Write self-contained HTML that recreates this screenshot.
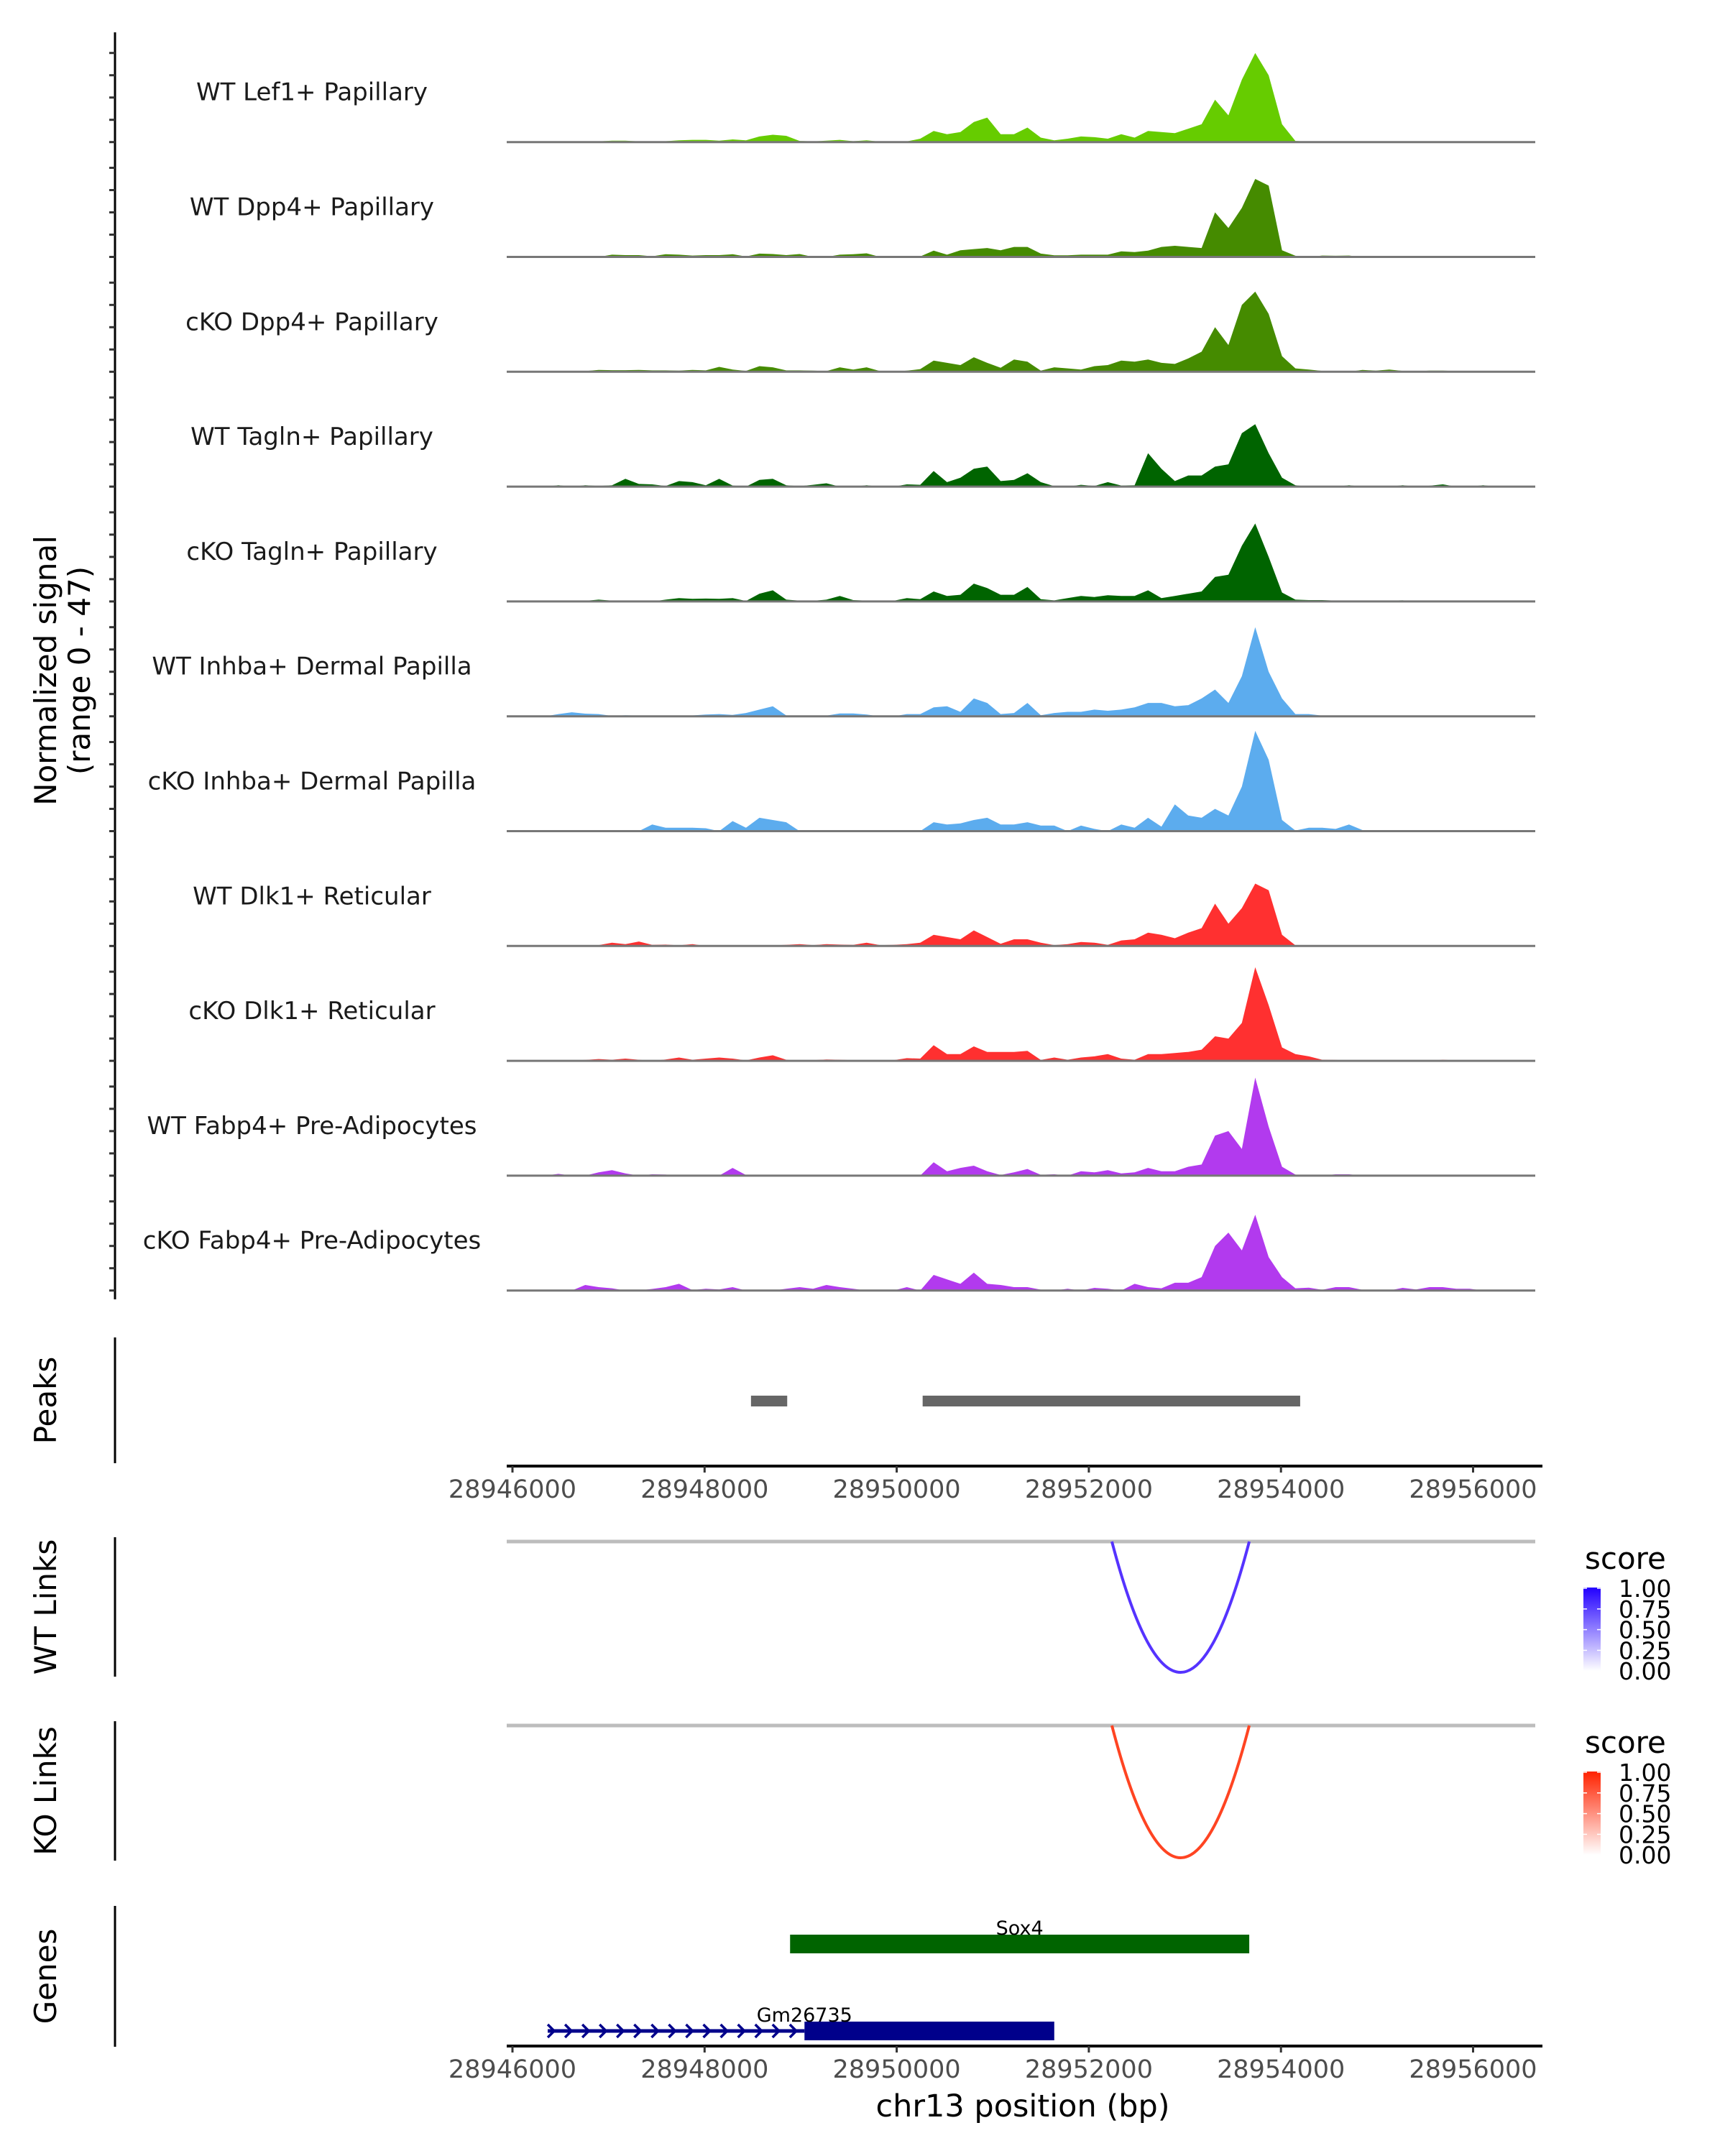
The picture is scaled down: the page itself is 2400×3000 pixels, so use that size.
<!DOCTYPE html>
<html><head><meta charset="utf-8">
<style>
html,body{margin:0;padding:0;background:#fff;}
svg{display:block;font-family:"DejaVu Sans","Liberation Sans",sans-serif;}
</style></head>
<body>
<svg id="chart" xmlns="http://www.w3.org/2000/svg" width="2400" height="3000" viewBox="0 0 2400 3000">
<defs>
<linearGradient id="gBlue" x1="0" y1="1" x2="0" y2="0"><stop offset="0" stop-color="#ffffff"/><stop offset="1" stop-color="#2200ff"/></linearGradient>
<linearGradient id="gRed" x1="0" y1="1" x2="0" y2="0"><stop offset="0" stop-color="#ffffff"/><stop offset="1" stop-color="#ff2200"/></linearGradient>
</defs>
<g id="tracks"></g>
<g id="peaks"></g>
<g id="links"></g>
<g id="genes"></g>
</svg>
<script>
// ---------- data ----------
const trackNames = ["WT Lef1+ Papillary","WT Dpp4+ Papillary","cKO Dpp4+ Papillary","WT Tagln+ Papillary","cKO Tagln+ Papillary","WT Inhba+ Dermal Papilla","cKO Inhba+ Dermal Papilla","WT Dlk1+ Reticular","cKO Dlk1+ Reticular","WT Fabp4+ Pre-Adipocytes","cKO Fabp4+ Pre-Adipocytes"];
const trackColors = ["#66cc00","#458b00","#458b00","#006400","#006400","#5cacee","#5cacee","#ff3030","#ff3030","#b23aee","#b23aee"];
const binStartBp = 28945990;
const binSizeBp = 139.5;
const sigLef1WT = [0,0.2,0.3,0.3,0.3,0.3,0.3,0.6,0.6,0.3,0.3,0.4,0.8,1,1,0.6,1.2,0.8,2.5,3.3,2.8,0.5,0.3,0.6,1,0.4,0.8,0.2,0,0.3,1.5,5,3.5,4.5,9,11,3.5,3.5,6.5,2,0.8,1.5,2.5,2.2,1.5,3.5,2,5,4.5,4,6,8,19,12,28,40,30,8,0.5,0.2,0.2,0.2,0.2,0.2,0.2,0.2,0.2,0.2,0.2,0.4,0.2,0.2,0,0,0];
const sigDpp4WT = [0,0,0,0,0,0,0,1,0.8,0.8,0.3,1.2,1,0.6,0.8,0.8,1.2,0.2,1.5,1.3,0.8,1.3,0,0,1,1.2,1.6,0,0,0.3,0.2,2.8,1,3,3.5,4,3,4.5,4.5,1.5,0.7,0.7,1,1,1,2.5,2.2,2.8,4.5,5,4.5,4,20,13,22,35,32,3,0.5,0,0.6,0.5,0.6,0,0,0,0,0,0.4,0.3,0.3,0.3,0,0,0];
const sigDpp4KO = [0,0,0,0.3,0.3,0.3,0.8,0.7,0.7,0.8,0.6,0.6,0.5,0.8,0.6,2.2,1,0.4,2.5,2,0.6,0.6,0.5,0.3,2,1,2,0.3,0,0.5,1.2,5,4,3,6.5,4,1.8,5.5,4.5,0.5,2,1.5,1,2.5,3,5,4.5,5.5,4,3.5,6,9,20,12,30,36,26,7,1.5,1,0.4,0,0,0.8,0.5,1,0.4,0.2,0.5,0.5,0.3,0,0,0,0];
const sigTaglnWT = [0,0,0,0.6,0,0.6,0.3,0.6,3.5,1.2,1,0.3,2.5,2,0.6,3.5,0.5,0,3,3.5,0.6,0.2,0.8,1.5,0,0,0.6,0,0,1,0.8,7,2,4,8,9,2.5,3,6,2,0.2,0,0.8,0.3,2,0.5,0.6,15,8,2.5,5,5,9,10,24,28,15,4,0.6,0,0,0,0.6,0,0,0,0.6,0,0.4,1,0,0,0.6,0,0];
const sigTaglnKO = [0,0,0,0,0.2,0.3,0.8,0.4,0,0,0,0.8,1.5,1.2,1.3,1.2,1.5,0.2,3.5,5,0.8,0.4,0.3,0.8,2.5,0.6,0.4,0.4,0.3,1.5,1,4.5,2.5,3,8,6,3,3,6.5,1,0.5,1.5,2.5,2,2.8,2.5,2.5,5,1.5,2.5,3.5,4.5,11,12,25,35,20,4,0.8,0.6,0.6,0.4,0,0,0.3,0.4,0.5,0,0,0.3,0.4,0.3,0,0,0];
const sigInhbaWT = [0,0,0,1,1.8,1.2,1,0.2,0.5,0.3,0.4,0,0,0.4,0.8,1,0.6,1.5,3,4.5,0.4,0.2,0.4,0.3,1.3,1.3,0.8,0,0,1,1,4,4.5,2,8,6,1,1.5,6,0.5,1.5,2,2,3,2.5,3,4,6,6,4.5,5,8,12,6,18,40,20,8,1,1,0.3,0.2,0.2,0,0,0.2,0.3,0,0,0.3,0.3,0,0,0,0];
const sigInhbaKO = [0,0,0,0,0,0,0,0,0,0,3,1.5,1.5,1.5,1.3,0,4.5,1.5,6,5,4,0,0,0,0,0,0,0,0,0,0,4,3,3.5,5,6,3,3,4,2.5,2.5,0,2.5,1,0,3,1.5,6,2,12,7,6,10,7,20,45,32,5,0.3,1.5,1.5,1,3,0.5,0,0,0,0,0,0,0,0,0,0,0];
const sigDlk1WT = [0,0,0,0.3,0.4,0.2,0.4,1.5,0.8,2,0.5,0.6,0.3,0.8,0,0,0.2,0,0.4,0.3,0.5,0.8,0.4,0.8,0.6,0.5,1.5,0.4,0.5,0.8,1.5,5,4,3,7,4,1,3,3,1.5,0.4,0.8,1.8,1.5,0.5,2.5,3,6,5,3.5,6,8,19,10,17,28,25,5,0.3,0.2,0,0,0.2,0.2,0.2,0.2,0,0,0,0,0,0,0,0,0];
const sigDlk1KO = [0,0,0,0.3,0.2,0.4,0.8,0.5,1,0.5,0,0.6,1.5,0.5,1,1.5,1,0.2,1.5,2.5,0.5,0,0.3,0.6,0.5,0.3,0.3,0,0.3,1.2,1,7,3,3,6.5,4,4,4,4.5,0.4,1.5,0.5,1.5,2,3,1,0.5,3,3,3.5,4,5,11,10,17,42,25,6,3,2,0.5,0.4,0.2,0.3,0,0,0,0,0,0.5,0.2,0.2,0,0,0];
const sigFabp4WT = [0,0,0,0.8,0,0,1.5,2.5,1,0,0.6,0.5,0,0,0,0,3.5,0.3,0,0,0,0,0,0,0,0,0,0,0,0,0,6,2,3.5,4.5,2,0.3,1.5,3,0.4,0.6,0,2,1.5,2.5,1,1.5,3.5,2,2,4,5,18,20,12,44,22,4,0.5,0,0,0.6,0.6,0,0,0,0,0,0,0,0,0,0,0,0];
const sigFabp4KO = [0,0,0,0,0,2.5,1.5,1,0,0,0.7,1.5,3,0.2,0.8,0.5,1.5,0,0,0,0.8,1.5,0.8,2.5,1.5,0.8,0,0,0,1.5,0,7,5,3,8,3,2.5,1.5,1.5,0.4,0,0.8,0,1.2,0.8,0,3,1.5,1,3.5,3.5,6,20,26,18,34,15,6,1,1.3,0.3,1.5,1.5,0.3,0,0,1.2,0.5,1.5,1.5,0.8,0.8,0,0,0];
const trackSignals = [sigLef1WT,sigDpp4WT,sigDpp4KO,sigTaglnWT,sigTaglnKO,sigInhbaWT,sigInhbaKO,sigDlk1WT,sigDlk1KO,sigFabp4WT,sigFabp4KO];
const yTickValues = [0,10,20,30,40];
const xTickValues = [28946000,28948000,28950000,28952000,28954000,28956000];
const peakStarts = [28948483,28950270];
const peakEnds = [28948860,28954200];
const linkWTStart = [28952240];
const linkWTEnd = [28953670];
const linkKOStart = [28952240];
const linkKOEnd = [28953670];
const legendTicks = ["1.00","0.75","0.50","0.25","0.00"];
const geneNames = ["Sox4","Gm26735"];
const geneStarts = [28948890,28946367];
const geneThickStarts = [28948890,28949040];
const geneEnds = [28953670,28951640];
const geneColors = ["#006400","#00008b"];

// ---------- scales ----------
const NS="http://www.w3.org/2000/svg";
const X0=713, PXBP=0.13365, XMIN=705, XMAX=2136;
function xs(bp){return X0+(bp-28946000)*PXBP;}
const BASE0=197.7, TSTEP=159.8, UNIT=3.1;
function base(k){return BASE0+TSTEP*k;}
function ys(k,v){return base(k)-v*UNIT;}
function mk(tag,attrs,parent){const e=document.createElementNS(NS,tag);for(const a in attrs)e.setAttribute(a,attrs[a]);parent.appendChild(e);return e;}

const gT=document.getElementById('tracks');
let ax=mk('line',{x1:160,y1:45,x2:160,y2:1808,stroke:'#000','stroke-width':3},gT);


let yt=mk('text',{x:0,y:0,'font-size':42,'text-anchor':'middle',transform:'translate(78,933) rotate(-90)'},gT);


yt.textContent='Normalized signal';
let yt2=mk('text',{x:0,y:0,'font-size':42,'text-anchor':'middle',transform:'translate(125,933) rotate(-90)'},gT);


yt2.textContent='(range 0 - 47)';

trackSignals.forEach((sig,k)=>{
  const g=mk('g',{},gT);
  
  
  yTickValues.forEach(v=>{
    const t=mk('line',{x1:152,x2:160,y1:ys(k,v),y2:ys(k,v),stroke:'#333','stroke-width':3},g);
    
    
  });
  let d='M'+xs(binStartBp)+' '+base(k);
  sig.forEach((v,i)=>{
    const xc=xs(binStartBp+(i+0.5)*binSizeBp);
    if(xc>XMAX)return;
    d+=' L'+xc.toFixed(1)+' '+ys(k,v).toFixed(1);
  });
  d+=' L'+Math.min(XMAX,xs(binStartBp+sig.length*binSizeBp)).toFixed(1)+' '+base(k)+' Z';
  const p=mk('path',{d:d,fill:trackColors[k]},g);
  
  
  const bl=mk('line',{x1:XMIN,x2:XMAX,y1:base(k),y2:base(k),stroke:'#777','stroke-width':3},g);
  
  
  const lb=mk('text',{x:434,y:base(k)-58,'font-size':34,'text-anchor':'middle',fill:'#1a1a1a'},g);
  
  
  lb.textContent=trackNames[k];
});

function xAxis(parent,y,name){
  const g=mk('g',{},parent);
  
  
  mk('line',{x1:XMIN,x2:2146,y1:y,y2:y,stroke:'#000','stroke-width':4},g);
  xTickValues.forEach(v=>{
    const t=mk('line',{x1:xs(v),x2:xs(v),y1:y,y2:y+9,stroke:'#333','stroke-width':3},g);
    
    
    const l=mk('text',{x:xs(v),y:y+44,'font-size':35,'text-anchor':'middle',fill:'#4d4d4d'},g);
    
    
    l.textContent=v;
  });
}
function panelLabel(parent,text,y1,y2,name){
  const a=mk('line',{x1:160,x2:160,y1:y1,y2:y2,stroke:'#000','stroke-width':3},parent);
  
  
  const t=mk('text',{x:0,y:0,'font-size':42,'text-anchor':'middle',transform:'translate(78,'+((y1+y2)/2)+') rotate(-90)'},parent);
  
  
  t.textContent=text;
}

const gP=document.getElementById('peaks');
panelLabel(gP,'Peaks',1861,2036,'peaks');
peakStarts.forEach((s,i)=>{
  const r=mk('rect',{x:xs(s),y:1942,width:xs(peakEnds[i])-xs(s),height:15,fill:'#666'},gP);
  
  
});
xAxis(gP,2040,'peaks-x-axis');

const gL=document.getElementById('links');
function linkPanel(title,top,bottom,starts,ends,color,grad,name){
  panelLabel(gL,title,top-6,top+188,name);
  const bl=mk('line',{x1:XMIN,x2:XMAX,y1:top,y2:top,stroke:'#bdbdbd','stroke-width':5},gL);
  
  
  starts.forEach((s,i)=>{
    const a=xs(s),b=xs(ends[i]),m=(a+b)/2;
    const c=mk('path',{d:'M'+a+' '+top+' Q'+m+' '+(top+2*(bottom-top))+' '+b+' '+top,fill:'none',stroke:color,'stroke-width':4},gL);
    
    
  });
  const lg=mk('g',{},gL);
  
  
  const st=mk('text',{x:2205,y:top+38,'font-size':42,fill:'#000'},lg);
  st.textContent='score';
  const cb=mk('rect',{x:2203,y:top+64,width:24,height:116,fill:'url(#'+grad+')'},lg);
  
  
  legendTicks.forEach((t,i)=>{
    const yy=top+65+i*28.8;
    mk('line',{x1:2203,x2:2208,y1:yy,y2:yy,stroke:'#fff','stroke-width':1.5},lg);
    mk('line',{x1:2222,x2:2227,y1:yy,y2:yy,stroke:'#fff','stroke-width':1.5},lg);
    const l=mk('text',{x:2252,y:yy+12,'font-size':33,fill:'#000'},lg);
    
    
    l.textContent=t;
  });
}
linkPanel('WT Links',2145,2327,linkWTStart,linkWTEnd,'#5533ff','gBlue','wt-links');
linkPanel('KO Links',2401,2585,linkKOStart,linkKOEnd,'#ff4422','gRed','ko-links');

const gG=document.getElementById('genes');
panelLabel(gG,'Genes',2652,2848,'genes');
const geneRows=[2705,2826];
geneNames.forEach((n,i)=>{
  const g=mk('g',{},gG);
  
  
  const yc=geneRows[i];
  if(geneThickStarts[i]>geneStarts[i]){
    mk('line',{x1:xs(geneStarts[i]),x2:xs(geneThickStarts[i]),y1:yc,y2:yc,stroke:geneColors[i],'stroke-width':5},g);
    for(let bp=geneStarts[i]+30;bp<geneThickStarts[i]-60;bp+=180){
      const x=xs(bp);
      mk('path',{d:'M'+(x-4)+' '+(yc-9)+' L'+(x+5)+' '+yc+' L'+(x-4)+' '+(yc+9),fill:'none',stroke:geneColors[i],'stroke-width':3.5},g);
    }
  }
  const r=mk('rect',{x:xs(geneThickStarts[i]),y:yc-13,width:xs(geneEnds[i])-xs(geneThickStarts[i]),height:26,fill:geneColors[i]},g);
  
  
  const t=mk('text',{x:(i==0?(xs(geneStarts[i])+xs(geneEnds[i]))/2:xs(geneThickStarts[i])),y:yc-13,'font-size':27,'text-anchor':'middle',fill:'#000'},g);
  
  
  t.textContent=n;
});
xAxis(gG,2847,'genes-x-axis');
const xt=mk('text',{x:1423,y:2945,'font-size':43,'text-anchor':'middle',fill:'#000'},gG);


xt.textContent='chr13 position (bp)';
</script>
</body></html>
